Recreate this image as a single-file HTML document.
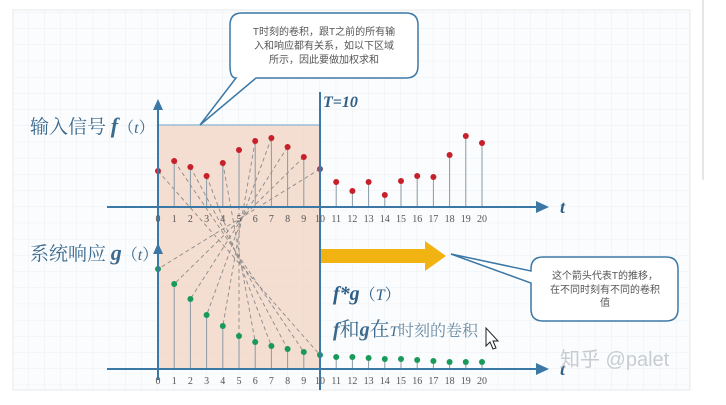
<!DOCTYPE html>
<html><head><meta charset="utf-8"><style>
html,body{margin:0;padding:0;background:#fff;}
svg{display:block;font-family:"Liberation Serif","Noto Serif CJK SC",serif;}
</style></head><body>
<svg id="c" width="726" height="405" viewBox="0 0 726 405">
<defs>
<pattern id="g" width="16.2" height="16.2" patternUnits="userSpaceOnUse" x="158" y="207">
<path d="M16.2 0V16.2H0" fill="none" stroke="#e6ecf1" stroke-width="0.8"/>
</pattern>
</defs>
<rect x="13" y="10" width="677" height="380" fill="#fbfcfd" stroke="#e8e8e8"/>
<rect x="13" y="10" width="677" height="380" fill="url(#g)"/>
<line x1="703" y1="0" x2="703" y2="180" stroke="#ccc"/>
<rect x="158" y="125" width="162" height="244" fill="#f3d6c6" opacity="0.8"/>
<line x1="158" y1="125" x2="320" y2="125" stroke="#9bbfd3" stroke-width="1.5"/>
<g id="dash"></g>
<g id="marks"></g>
<!-- axes -->
<line x1="158" y1="380" x2="158" y2="103" stroke="#3c78a6" stroke-width="2"/>
<polygon points="158,99 153,110 163,110" fill="#3c78a6"/>
<polygon points="158,243 153,254 163,254" fill="#3c78a6"/>
<line x1="107" y1="207" x2="538" y2="207" stroke="#3c78a6" stroke-width="2"/>
<polygon points="549,207 536,201 536,213" fill="#3c78a6"/>
<line x1="107" y1="369" x2="538" y2="369" stroke="#3c78a6" stroke-width="2"/>
<polygon points="549,369 536,363 536,375" fill="#3c78a6"/>
<line x1="320" y1="92" x2="320" y2="390" stroke="#3c78a6" stroke-width="2"/>
<text x="323" y="107" font-size="16" font-style="italic" font-weight="bold" fill="#2f5f86">T=10</text>
<text x="560" y="213" font-size="18" font-style="italic" font-weight="bold" fill="#2f5f86">t</text>
<text x="560" y="375" font-size="18" font-style="italic" font-weight="bold" fill="#2f5f86">t</text>
<text x="30" y="133" font-size="19" fill="#3b6a8e">输入信号 <tspan font-style="italic" font-weight="bold" font-size="22">f</tspan><tspan font-size="16">（<tspan font-style="italic">t</tspan>）</tspan></text>
<text x="30" y="260" font-size="19" fill="#3b6a8e">系统响应 <tspan font-style="italic" font-weight="bold" font-size="22">g</tspan><tspan font-size="16">（<tspan font-style="italic">t</tspan>）</tspan></text>
<g id="ticks"></g>
<!-- yellow arrow -->
<polygon points="321,249 425,249 425,241 446,256 425,271 425,263 321,263" fill="#f1b312"/>
<text x="333" y="300" font-size="20" fill="#2f5f86"><tspan font-style="italic" font-weight="bold">f*g</tspan><tspan font-size="16">（<tspan font-style="italic">T</tspan>）</tspan></text>
<text x="333" y="336" font-size="20" fill="#3b6a8e"><tspan font-style="italic" font-weight="bold">f</tspan>和<tspan font-style="italic" font-weight="bold">g</tspan>在<tspan font-style="italic" font-size="15">T</tspan><tspan font-size="16" fill="#6a8aa3">时刻的卷积</tspan></text>
<!-- callouts -->
<path d="M242 13H406Q418 13 418 25V66Q418 78 406 78H256L200 125L236 78Q230 78 230 66V25Q230 13 242 13Z" fill="#fff" stroke="#3c78a6" stroke-width="1.5"/>
<text font-size="10" fill="#555" text-anchor="middle" font-family="'Liberation Sans','Noto Sans CJK SC',sans-serif"><tspan x="324" y="35">T时刻的卷积，跟T之前的所有输</tspan><tspan x="324" y="49">入和响应都有关系，如以下区域</tspan><tspan x="324" y="63">所示，因此要做加权求和</tspan></text>
<path d="M543 257H666Q678 257 678 269V309Q678 321 666 321H543Q531 321 531 309V283L451 254L531 271V269Q531 257 543 257Z" fill="#fff" stroke="#3c78a6" stroke-width="1.5"/>
<text font-size="10" fill="#555" text-anchor="middle" font-family="'Liberation Sans','Noto Sans CJK SC',sans-serif"><tspan x="605" y="279">这个箭头代表T的推移，</tspan><tspan x="605" y="293">在不同时刻有不同的卷积</tspan><tspan x="605" y="306">值</tspan></text>
<text x="560" y="366" font-size="20" fill="#c8ccd0" font-family="'Liberation Sans','Noto Sans CJK SC',sans-serif">知乎 @palet</text>
<path d="M486 328V346L490 342L493 349L496 348L493 341L498 341Z" fill="#fff" stroke="#222" stroke-width="1"/>
</svg>
<script>
const categories=[0,1,2,3,4,5,6,7,8,9,10,11,12,13,14,15,16,17,18,19,20];
const fValues=[36,46,40,31,44,57,66,69,60,50,38,25,16,25,12,26,31,30,52,71,64];
const gValues=[100,85,70,54,43,33,27,23,20,17,14,12,12,11,10,10,9,8,7,7,7];
const T=10;
const NS='http://www.w3.org/2000/svg';
const x=i=>158+16.2*i;
const yf=v=>207-v;
const yg=v=>369-v;
function mk(tag,a,p){const e=document.createElementNS(NS,tag);for(const k in a)e.setAttribute(k,a[k]);p.appendChild(e);return e;}
const marks=document.getElementById('marks'),dash=document.getElementById('dash'),ticks=document.getElementById('ticks');
categories.forEach((c,i)=>{
  if(i<=T){
    const d=mk('line',{x1:x(i),y1:yf(fValues[i]),x2:x(T-i),y2:yg(gValues[T-i]),stroke:'#8a8a8a','stroke-width':0.9,'stroke-dasharray':'4,3'},dash);
    
    
  }
  const s1=mk('line',{x1:x(i),y1:207,x2:x(i),y2:yf(fValues[i]),stroke:'#8a9aa6','stroke-width':1},marks);
  
  
  const p1=mk('circle',{cx:x(i),cy:yf(fValues[i]),r:3,fill:i==T?'#8a4a6a':'#c8202a'},marks);
  
  
  const s2=mk('line',{x1:x(i),y1:369,x2:x(i),y2:yg(gValues[i]),stroke:'#8a9aa6','stroke-width':1},marks);
  
  
  const p2=mk('circle',{cx:x(i),cy:yg(gValues[i]),r:3,fill:'#1a9a5a'},marks);
  
  
  [222,384].forEach(ty=>{
    const t=mk('text',{x:x(i),y:ty,'font-size':10,fill:'#555','text-anchor':'middle'},ticks);
    t.textContent=c;
    
    
  });
});
</script>
</body></html>
